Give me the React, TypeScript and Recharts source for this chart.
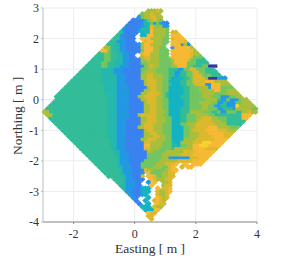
import React from 'react';
import { ScatterChart, Scatter, XAxis, YAxis, CartesianGrid } from 'recharts';

// point colours, one series per colour band of the height map
const bandColors: Record<string, string> = {
  D: '#3b2fa8',
  B: '#3a82f0',
  C: '#2299e2',
  K: '#14b3c4',
  T: '#24b8ae',
  G: '#33bc98',
  L: '#72c560',
  O: '#a9bf3c',
  Y: '#dcb92c',
  A: '#f5b935',
  Z: '#f9d02f',
};

const xTicks = [-2, 0, 2, 4];
const yTicks = [-4, -3, -2, -1, 0, 1, 2, 3];

// northing of each scan line, in decimetres
const northings = Array.from({ length: 69 }, (_, i) => 29 - i);

// scan lines: "<easting in dm where a colour starts><colour>", '.' means no points
const scanLines = [
  '4O 7Y 8O 9.',
  '2L 3O 5Y 6O 8.',
  '1C 2L 3O 5Y 7O 9.',
  '-1B 3T 4L 5O 6Y 7O 8L 9.',
  '-2B 2C 3T 5L 6C 7L 8C 10B 11.',
  '-3B 2C 3K 4T 5Y 6O 7L 8O 9C 11.',
  '-4C -3B 1C 2T 5A 6O 10L 11.',
  '-5G -4C -3B 1. 2K 3T 5A 6O 10L 11. 12Y 14.',
  '-6G -5C -4B 0. 2K 4A 6O 10L 11. 12A 15.',
  '-7G -5C -3B 0. 2A 5O 9L 11. 12Y 13A 16.',
  '-8G -6C -3B 0. 3Y 4A 6O 9L 11. 12A 16Y 17.',
  '-9G -7T -5C -3B 1C 2O 3A 5O 9L 10. 12A 15C 16O 17C 18.',
  '-10O -8G -7T -5C -3B 2O 3A 6O 8L 10. 12C 13A 18O 19.',
  '-11A -9L -8G -6T -5C -3B 2L 3A 6O 8L 11. 12A 19O 20.',
  '-12G -10L -8G -6T -4C -2B 0. 2Y 3A 5O 8L 11. 12A 18Y 19O 21.',
  '-13G -10L -8G -6T -4C -2B 0. 2O 3Y 5O 8L 11. 12A 18Y 19L 22.',
  '-14G -10L -8G -6T -4C -2B 2O 4Y 5O 8L 12O 13A 17Y 18L 20G 23.',
  '-15G -11L -9G -7T -4C -2B 2L 4O 8L 12O 13A 17L 20G 24.',
  '-16G -11L -9G -7T -5C -2B 3L 4O 5Y 6O 8L 12O 14A 17L 19G 22L 24D 27.',
  '-17G -11T -7C -4B 2L 4O 7L 11G 14C 16L 18Y 20L 23G 26.',
  '-18G -11T -7C -4B 2L 3O 7L 11G 13C 15G 17L 19Y 21L 23G 27.',
  '-19G -11T -6C -3B 2O 4Y 6O 9L 11G 13C 14K 15G 17L 19Y 22L 25G 28.',
  '-20G -11T -6C -3B 2O 4Y 6O 9L 11G 12C 13K 16G 18L 19Y 23L 24D 27C 30.',
  '-21G -11T -6C -3B 3O 4Y 7O 9L 11K 15G 17L 19Y 23A 26O 30.',
  '-22G -10T -6C -3B 3O 4Y 7O 9L 11G 12K 15G 17L 19O 20Y 23C 25A 28O 31.',
  '-23G -10T -6C -2B 4O 5Y 7O 9L 11K 16G 18L 21O 24C 25A 28L 32.',
  '-24G -10T -6C -2B 3O 5Y 7O 9L 11K 16G 18L 21O 26A 28L 30O 33.',
  '-25G -10T -6C -2B 2O 4Y 8O 9L 10G 11K 16G 18L 22O 26L 30O 34.',
  '-26G -9T -6C -2B 1O 3Y 7O 9L 10G 11K 15G 18L 22O 25L 28C 31L 33O 35.',
  '-26G -9T -6C -2B 2O 4Y 7O 9L 11K 16G 18L 23O 27G 28C 30L 31C 34L 35O 37.',
  '-27G -9T -6C -2B 3O 4Y 7O 9L 11K 16G 18L 21O 25L 27C 29G 30C 33L 35O 38.',
  '-28G -9T -6C -2B 3O 5Y 7O 9L 11K 16G 18L 22O 24L 26C 28G 30C 33Z 34O 39.',
  '-29G -9T -6C -2B 3O 5Y 7O 9L 11K 15G 18L 22O 24L 27C 29G 32C 33O 38L 40.',
  '-30O -28G -9T -6C -2B 3O 5Y 7O 10L 11K 15G 18O 22L 25G 27L 28C 30L 33G 35O 37Y 38O 40.',
  '-29O -27G -9T -6C -2B 1O 2Y 7O 9L 11K 15G 17L 20O 24L 26G 35A 38.',
  '-28G -9T -6C -2B 2O 4Y 7O 10L 12K 15G 17L 20O 22Y 25O 27L 30G 35A 37.',
  '-27G -9T -6C -3B 2O 4Y 7O 10L 12K 15G 17L 20O 21Y 25O 28L 30G 36.',
  '-26G -9T -6C -3B 2O 3Y 6O 9L 12K 15L 17O 20Y 26O 30G 35.',
  '-25G -9T -6C -3B 1O 3Y 6O 9L 12K 16L 18O 20Y 24A 27O 31L 34.',
  '-24G -9T -6C -3B 3O 4Y 6O 9L 12K 16L 18O 19Y 23A 27Y 30O 33.',
  '-23G -9T -6C -3B 3O 5Y 7O 9L 12K 16L 18O 21Y 24A 29Y 32.',
  '-22G -9T -6C -3B 3O 6Y 8O 10L 12K 16L 18O 21Y 25A 29Y 31.',
  '-21G -8T -6C -3B 2O 4Y 7O 10L 12K 16O 20Y 26A 30.',
  '-20G -8T -6C -3B 3Y 5O 9L 12T 13K 15O 19Y 22Z 25A 29.',
  '-19G -8T -6C -3B 3A 5O 9L 12T 14K 15L 17O 19A 21Z 24A 28.',
  '-18G -8T -6C -3B 3Y 5O 8L 12G 13O 19A 23Y 27.',
  '-17G -7T -5C -3B 4O 6L 10O 16Y 20A 26.',
  '-16G -7T -5C -2B 4L 9O 15Y 19A 25.',
  '-15G -6T -5C -2B 4L 9O 11C 18Y 21A 24.',
  '-14G -6T -5C -2B 3L 8O 14Y 19A 23.',
  '-13G -6T -5C -2B 2L 7O 10Y 13A 14. 16A 17. 19A 22.',
  '-12G -6T -4C -1B 2L 6O 9L 11Y 12A 13. 15Y 16. 17A 19.',
  '-11G -5T -4C -1B 3Y 4O 6L 10O 11Y 12A 14.',
  '-10G -5T -4C -1B 2C 3. 4A 5L 9O 11Y 13.',
  '-9G -5T -3C -1B 2Y 3. 4A 6Y 7L 9O 11Y 13.',
  '-7G -4T -3C -1B 3. 5A 6Y 7O 10Y 12.',
  '-6G -4T -3C 0B 2. 4C 5. 6A 7. 9O 11Y 12.',
  '-5T -3C 0B 2. 5A 6. 9O 10Y 12.',
  '-4T -3C -1B 2K 5. 7A 8. 9Y 11A 12.',
  '-3C -1B 2K 5. 7Y 8O 10Y 11A 12.',
  '-2C -1B 2K 4. 7Y 8O 10Y 11.',
  '-1C 0B 1. 4K 5. 7A 8Y 9O 10Y 11.',
  '0B 1. 3K 4. 6Y 7A 8Y 9O 10.',
  '1B 2. 4K 5. 7A 8Y 10.',
  '2K 5. 6Y 7O 9.',
  '3K 6. 7A 8.',
  '4A 5Y 7.',
  '4Y 6.',
  '5Y 6.',
];

type MapPoint = { easting: number; northing: number };

const pointsByBand: Record<string, MapPoint[]> = {};
Object.keys(bandColors).forEach((k) => (pointsByBand[k] = []));

scanLines.forEach((line, row) => {
  const runs = line.split(' ').map((t) => ({ start: parseInt(t, 10), band: t.slice(-1) }));
  runs.forEach((run, i) => {
    if (run.band === '.') return;
    for (let d = run.start; d < runs[i + 1].start; d++) {
      pointsByBand[run.band].push({ easting: (d + 0.5) / 10, northing: northings[row] / 10 });
    }
  });
});

const serif = 'Liberation Serif, serif';
const axisFont = { fontFamily: serif, fontSize: 12, fill: '#333' };
const labelFont = { fontFamily: serif, fontSize: 13.5, fill: '#333' };

// diamond underlay smooths the stair steps on the slanted edges
const diamondMark = (p: any) => (
  <polygon
    points={`${p.cx - 3.1},${p.cy} ${p.cx},${p.cy - 3.1} ${p.cx + 3.1},${p.cy} ${p.cx},${p.cy + 3.1}`}
    fill={p.fill}
  />
);
const squareMark = (p: any) => <rect x={p.cx - 1.65} y={p.cy - 1.65} width={3.3} height={3.3} fill={p.fill} />;

const bands = Object.keys(bandColors);

const App: React.FC = () => {
  return (
    <div style={{ position: 'absolute', left: 0, top: 0, fontFamily: serif }}>
      <ScatterChart width={299} height={258} margin={{ top: 8, right: 42, bottom: 0, left: 13 }}>
        <CartesianGrid stroke="#ececec" syncWithTicks />
        <XAxis
          type="number"
          dataKey="easting"
          domain={[-3, 4]}
          ticks={xTicks}
          height={36}
          stroke="#8c8c8c"
          tickSize={2}
          tickMargin={5}
          tick={axisFont}
          label={{ value: 'Easting [ m ]', position: 'insideBottom', offset: 5, style: labelFont }}
        />
        <YAxis
          type="number"
          dataKey="northing"
          domain={[-4, 3]}
          ticks={yTicks}
          width={30}
          stroke="#bdbdbd"
          tickSize={2}
          tickMargin={2}
          tick={axisFont}
          label={{ value: 'Northing [ m ]', angle: -90, position: 'insideLeft', offset: 4, dy: 40, style: labelFont }}
        />
        {bands
          .filter((band) => band !== 'D')
          .map((band) => (
            <Scatter
              key={'under' + band}
              data={pointsByBand[band]}
              fill={bandColors[band]}
              isAnimationActive={false}
              shape={diamondMark}
            />
          ))}
        {bands.map((band) => (
          <Scatter
            key={band}
            name={band}
            data={pointsByBand[band]}
            fill={bandColors[band]}
            isAnimationActive={false}
            shape={squareMark}
          />
        ))}
      </ScatterChart>
    </div>
  );
};

export default App;
